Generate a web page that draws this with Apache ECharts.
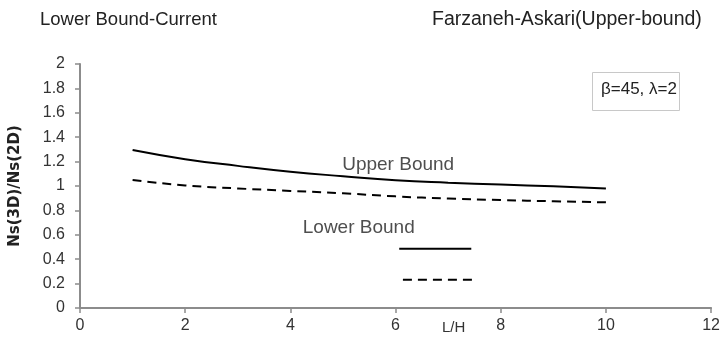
<!DOCTYPE html>
<html><head><meta charset="utf-8">
<script src="https://cdn.jsdelivr.net/npm/echarts@6/dist/echarts.min.js"></script>
<style>html,body{margin:0;padding:0;background:#fff}#c{width:723px;height:343px}</style>
</head><body><div id="c"></div>
<script>
const xValues = [1, 2, 3, 4, 5, 6, 7, 8, 9, 10];
const upperBound = [1.295, 1.22, 1.165, 1.117, 1.08, 1.047, 1.027, 1.012, 0.997, 0.98];
const lowerBound = [1.05, 1.005, 0.98, 0.96, 0.94, 0.915, 0.897, 0.885, 0.875, 0.866];
const legendSolidX = [6.07, 7.44];
const legendSolidY = [0.485, 0.485];
const legendDashX = [6.14, 7.53];
const legendDashY = [0.232, 0.232];
const yTicks = [0, 0.2, 0.4, 0.6, 0.8, 1, 1.2, 1.4, 1.6, 1.8, 2];
const xTicks = [0, 2, 4, 6, 8, 10, 12];
const annotations = [
  { text: 'Upper Bound', x: 6.05, y: 1.175 },
  { text: 'Lower Bound', x: 5.3, y: 0.66 }
];

const zip = (a, b) => a.map((v, i) => [v, b[i]]);
const font = 'Liberation Sans';
const chart = echarts.init(document.getElementById('c'));
chart.setOption({
  animation: false,
  grid: { left: 77, right: 8, top: 64, bottom: 35 },
  xAxis: {
    type: 'value', min: xTicks[0], max: xTicks[xTicks.length - 1], interval: 2,
    axisLine: { lineStyle: { color: '#8c8c8c', width: 2 } },
    axisTick: { show: true, length: 5, lineStyle: { color: '#8c8c8c', width: 1.5 } },
    axisLabel: { color: '#333', fontFamily: font, fontSize: 16, margin: 10 },
    splitLine: { show: false }
  },
  yAxis: {
    type: 'value', min: yTicks[0], max: yTicks[yTicks.length - 1], interval: 0.2,
    name: 'Ns(3D)/Ns(2D)', nameLocation: 'middle', nameGap: 57,
    nameTextStyle: { fontFamily: 'DejaVu Sans', fontWeight: 'bold', fontSize: 15, color: '#222' },
    axisLine: { show: true, lineStyle: { color: '#8c8c8c', width: 2 } },
    axisTick: { show: true, length: 5, lineStyle: { color: '#8c8c8c', width: 1.5 } },
    axisLabel: { color: '#333', fontFamily: font, fontSize: 16, margin: 15 },
    splitLine: { show: false }
  },
  series: [
    { type: 'line', data: zip(xValues, upperBound), smooth: true, symbol: 'none',
      lineStyle: { color: '#000', width: 2 } },
    { type: 'line', data: zip(xValues, lowerBound), smooth: true, symbol: 'none',
      lineStyle: { color: '#000', width: 2, type: [9, 6] } },
    { type: 'line', data: zip(legendSolidX, legendSolidY), symbol: 'none',
      lineStyle: { color: '#000', width: 2 } },
    { type: 'line', data: zip(legendDashX, legendDashY), symbol: 'none',
      lineStyle: { color: '#000', width: 2, type: [9, 6] } },
    { type: 'scatter', symbolSize: 0, data: annotations.map(a => ({ value: [a.x, a.y], name: a.text })),
      label: { show: true, position: 'inside', formatter: p => p.name,
        fontFamily: font, fontSize: 19, color: '#222' } }
  ],
  graphic: [
    { type: 'text', left: 40, top: 10, style: { text: 'Lower Bound-Current', font: '18.5px "Liberation Sans"', fill: '#222' } },
    { type: 'text', left: 432, top: 10, style: { text: 'Farzaneh-Askari(Upper-bound)', font: '19.5px "Liberation Sans"', fill: '#222' } },
    { type: 'rect', left: 592, top: 72, shape: { width: 87, height: 38 },
      style: { fill: '#fff', stroke: '#c8c8c8', lineWidth: 1 } },
    { type: 'text', left: 601, top: 81, style: { text: 'β=45, λ=2', font: '17px "Liberation Sans"', fill: '#222' } },
    { type: 'text', left: 442, top: 320, style: { text: 'L/H', font: '15px "Liberation Sans"', fill: '#333' } }
  ]
});
</script></body></html>
